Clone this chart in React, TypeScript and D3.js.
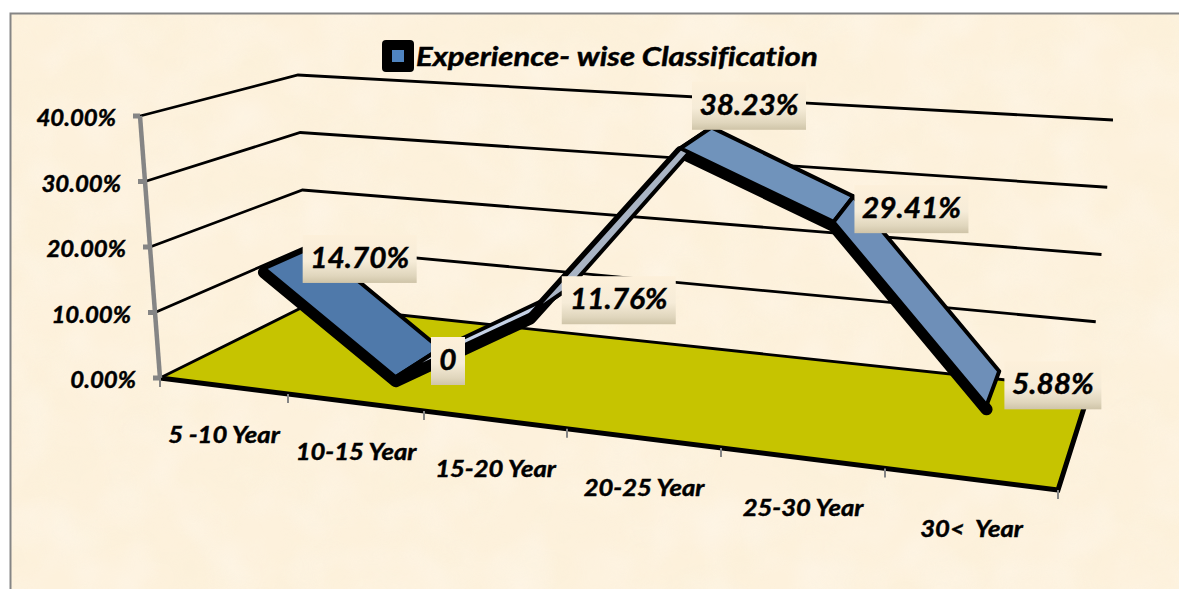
import React from "react";
import * as d3 from "d3";

const categories = ["5 -10 Year", "10-15 Year", "15-20 Year", "20-25 Year", "25-30 Year", "30<  Year"];
const values = [14.7, 0, 11.76, 38.23, 29.41, 5.88];
const valueLabels = ["14.70%", "0", "11.76%", "38.23%", "29.41%", "5.88%"];
const yTicks = [0, 10, 20, 30, 40];
const seriesName = "Experience- wise Classification";

// perspective layout of the 3-D box
const catIdx = [0, 1, 2, 3, 4, 5, 6];
const frontX = d3.scaleLinear().domain(catIdx).range([160, 288, 424, 567, 721, 885, 1058]);
const backX = d3.scaleLinear().domain(catIdx).range([307, 420, 540, 665, 795, 925, 1090]);
const frontY = d3.scaleLinear().domain([160, 1058]).range([378, 490]);
const backY = d3.scaleLinear().domain([307, 1090]).range([305, 389]);
const hFront = d3.scaleLinear().domain([0, 6]).range([262, 300]);
const hBack = d3.scaleLinear().domain([0, 6]).range([230, 269]);
const leanFront = d3.scaleLinear().domain([0, 6]).range([-20, 30]);
const leanBack = d3.scaleLinear().domain([0, 6]).range([-9, 23]);
const valueScale = d3.scaleLinear().domain([0, 40]).range([0, 1]);

type P = [number, number];
function proj(u: number, d: number, v: number): P {
  const fx = frontX(u), bx = backX(u);
  const baseX = fx + (bx - fx) * d;
  const baseY = frontY(fx) + (backY(bx) - frontY(fx)) * d;
  const t = valueScale(v);
  const h = hFront(u) + (hBack(u) - hFront(u)) * d;
  const l = leanFront(u) + (leanBack(u) - leanFront(u)) * d;
  return [baseX + l * t, baseY - h * t];
}

const line = d3.line<P>();
const closed = (pts: P[]) => line(pts) + "Z";

const segColors = ["#4f79aa", "#c5d2e6", "#a9b4c4", "#7093bb", "#6e8fb8"];
const D0 = 0.32, D1 = 0.68;
const boxW = [114, 34, 114, 114, 114, 97];
const labelDX = [70, 30, 69, 53, 68, 60];
const labelDY = [2, -2, -1, -32, 0, -3];
const fontFam = "Lato, 'Open Sans', sans-serif";

function Stretch({ x, y, sx, size, anchor, children }: any) {
  return (
    <text
      transform={`translate(${x},${y}) scale(${sx},1)`}
      textAnchor={anchor}
      fontSize={size}
      fontWeight={700}
      fontStyle="italic"
      fill="#000"
      stroke="#000"
      strokeWidth={0.45}
      xmlSpace="preserve"
      style={{ fontVariantLigatures: "none" }}
    >
      {children}
    </text>
  );
}

export default function App() {
  const pts = values.map((v, i) => ({
    f: proj(i + 0.5, D0, v),
    b: proj(i + 0.5, D1, v),
    c: proj(i + 0.5, 0.5, v),
  }));
  const W = 1179, H = 589;
  return (
    <svg width={W} height={H} style={{ position: "absolute", left: 0, top: 0, background: "#fff" }} fontFamily={fontFam}>
      <defs>
        <filter id="mottle" x="0" y="0" width="100%" height="100%">
          <feTurbulence type="fractalNoise" baseFrequency="0.014 0.018" numOctaves={3} seed={7} />
          <feColorMatrix type="matrix" values="0 0 0 0 0.96  0 0 0 0 0.87  0 0 0 0 0.68  1.6 0 0 0 -0.55" />
        </filter>
        <filter id="mottle2" x="0" y="0" width="100%" height="100%">
          <feTurbulence type="fractalNoise" baseFrequency="0.02" numOctaves={2} seed={21} />
          <feColorMatrix type="matrix" values="0 0 0 0 1  0 0 0 0 0.97  0 0 0 0 0.93  0 1.8 0 0 -0.7" />
        </filter>
        <linearGradient id="lab" x1="0" y1="0" x2="0" y2="1">
          <stop offset="0" stopColor="#fdf0da" />
          <stop offset="0.55" stopColor="#f6ecd8" />
          <stop offset="0.85" stopColor="#e0d6bd" />
          <stop offset="1" stopColor="#cfc4a8" />
        </linearGradient>
      </defs>

      {/* chart area */}
      <rect x={10} y={13} width={W - 10} height={H - 13} fill="#fdf1dc" />
      <rect x={10} y={13} width={W - 10} height={H - 13} filter="url(#mottle)" opacity={0.5} />
      <rect x={10} y={13} width={W - 10} height={H - 13} filter="url(#mottle2)" opacity={0.35} />
      <path d={`M10.5 ${H}V13.5H${W}`} fill="none" stroke="#858585" strokeWidth={2} />

      {/* floor */}
      <path d={closed([proj(0, 0, 0), proj(0, 1, 0), proj(6, 1, 0), proj(6, 0, 0)])} fill="#c6c400" />

      {/* gridlines on the walls */}
      {yTicks.map((t) => (
        <path key={t} d={line([proj(0, 0, t), proj(0, 1, t), proj(6, 1, t)]) as string} fill="none" stroke="#000" strokeWidth={2.8} />
      ))}
      <path d={line([proj(0, 0, 0), proj(6, 0, 0), proj(6, 1, 0)]) as string} fill="none" stroke="#000" strokeWidth={5} />

      {/* axes */}
      <path d={line([proj(0, 0, 0), proj(0, 0, 40)]) as string} stroke="#858585" strokeWidth={4.5} fill="none" />
      {yTicks.map((t) => {
        const [x, y] = proj(0, 0, t);
        return <path key={t} d={`M${x - 7} ${y}H${x}`} stroke="#858585" strokeWidth={5} />;
      })}
      {catIdx.map((c) => {
        const [x, y] = proj(c, 0, 0);
        return <path key={c} d={`M${x} ${y}v9`} stroke="#858585" strokeWidth={2} />;
      })}

      {/* ribbon: thick dark edge under the face */}
      <path
        d={line(pts.map((p) => [p.f[0], p.f[1] + 4] as P)) as string}
        fill="none"
        stroke="#000"
        strokeWidth={12}
        strokeLinejoin="round"
        strokeLinecap="round"
      />
      {pts.slice(0, -1).map((p, i) => (
        <path
          key={i}
          d={closed([p.f, p.b, pts[i + 1].b, pts[i + 1].f])}
          fill={segColors[i]}
          stroke="#000"
          strokeWidth={4}
          strokeLinejoin="round"
        />
      ))}

      {/* value labels */}
      {pts.map((p, i) => {
        const cx = p.c[0] + labelDX[i];
        const cy = p.c[1] + labelDY[i];
        return (
          <g key={i}>
            <rect x={cx - boxW[i] / 2} y={cy - 24} width={boxW[i]} height={48} fill="url(#lab)" />
            <Stretch x={cx} y={cy + 9} sx={1.03} size={29} anchor="middle">{valueLabels[i]}</Stretch>
          </g>
        );
      })}

      {/* y labels */}
      {yTicks.map((t) => {
        const [x, y] = proj(0, 0, t);
        return (
          <Stretch key={t} x={x - 24} y={y + 10} sx={1.09} size={22} anchor="end">
            {d3.format(".2f")(t) + "%"}
          </Stretch>
        );
      })}

      {/* x labels */}
      {categories.map((c, i) => {
        const [x, y] = proj(i + 0.5, 0, 0);
        return (
          <Stretch key={c} x={x} y={y + 57.5} sx={1.165} size={22} anchor="middle">{c}</Stretch>
        );
      })}

      {/* legend */}
      <rect x={382} y={40} width={32} height={32} rx={4} fill="#000" />
      <rect x={392} y={50} width={12} height={12} fill="#4f84c0" />
      <Stretch x={416} y={66} sx={1.197} size={26} anchor="start">{seriesName}</Stretch>
    </svg>
  );
}
